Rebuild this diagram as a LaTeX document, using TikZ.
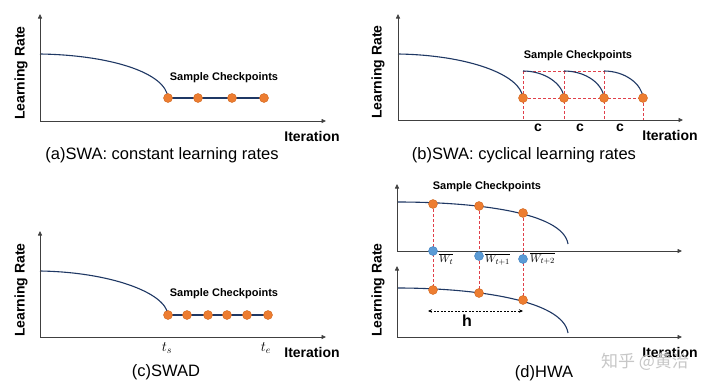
\documentclass[tikz,border=0pt]{standalone}
\usepackage{fontspec}
\setmainfont{Liberation Sans}
\newfontfamily\cjkfont{Noto Sans CJK SC}
\usetikzlibrary{arrows.meta,backgrounds}
\definecolor{lrnavy}{HTML}{1F3864}
\definecolor{ckorange}{HTML}{ED7D31}
\definecolor{ckedge}{HTML}{D0661E}
\definecolor{avgblue}{HTML}{5B9BD5}
\definecolor{avgedge}{HTML}{3F7FBF}
\definecolor{dashred}{HTML}{E0404A}
\definecolor{axisgray}{HTML}{404040}
\tikzset{
  axisline/.style={draw=axisgray, line width=0.8pt, -{Triangle[length=4.5pt,width=4pt]}},
  lrcurve/.style={draw=lrnavy, line width=1.1pt},
  ckdot/.style={circle, fill=ckorange, draw=ckedge, line width=0.4pt, inner sep=0pt, minimum size=9pt},
  avgdot/.style={circle, fill=avgblue, draw=avgedge, line width=0.4pt, inner sep=0pt, minimum size=9pt},
  reddash/.style={draw=dashred, line width=0.8pt, dash pattern=on 3pt off 2pt},
  hdash/.style={draw=black, line width=0.6pt, dash pattern=on 2pt off 1.5pt, {Stealth[length=4pt,width=3.5pt]}-{Stealth[length=4pt,width=3.5pt]}},
  ylabel/.style={font=\fontsize{14}{14}\selectfont\bfseries, rotate=90},
  xlabel/.style={font=\fontsize{14}{14}\selectfont\bfseries},
  cklabel/.style={font=\fontsize{11}{11}\selectfont\bfseries},
  clabel/.style={font=\fontsize{14}{14}\selectfont\bfseries},
  caption/.style={font=\fontsize{16.5}{16.5}\selectfont},
  mlabel/.style={font=\fontsize{14}{14}\selectfont},
  wlabel/.style={font=\fontsize{11}{11}\selectfont, anchor=north west, inner sep=0pt},
  watermark/.style={font=\fontsize{17}{17}\selectfont\cjkfont, text=black!22},
}
\begin{document}
\begin{tikzpicture}[x=1pt,y=-1pt]
\begin{pgfonlayer}{background}
\fill[white] (0,0) rectangle (720,391);
\end{pgfonlayer}
\useasboundingbox (0,0) rectangle (720,391);

% ---------------- panel (a)
\coordinate (aO) at (40,121);
\coordinate (aY) at (40,14);
\coordinate (aX) at (326,121);
\coordinate (aS) at (40,54);
\node[ckdot] (a1) at (168,98) {};
\node[ckdot] (a2) at (198,98) {};
\node[ckdot] (a3) at (232,98) {};
\node[ckdot] (a4) at (264,98) {};
\begin{pgfonlayer}{background}
\draw[lrcurve] (aS) .. controls (108,55) and (166,72) .. (a1.center);
\draw[lrcurve] (a1.center) -- (a4.center);
\end{pgfonlayer}
\draw[axisline] (aO) -- (aY);
\draw[axisline] (aO) -- (aX);
\node[cklabel] (aCk) at (224,78) {Sample Checkpoints};
\node[xlabel] (aIt) at (312,136) {Iteration};
\node[ylabel] (aLr) at (21,73) {Learning Rate};
\node[caption] (aCap) at (162,155) {(a)SWA: constant learning rates};

% ---------------- panel (b)
\coordinate (bO) at (398,120);
\coordinate (bY) at (398,14);
\coordinate (bX) at (683,120);
\coordinate (bS) at (398,54);
\coordinate (bT1) at (523,71);
\coordinate (bT2) at (564,71);
\coordinate (bT3) at (604,71);
\coordinate (bB1) at (523,120);
\coordinate (bB2) at (564,120);
\coordinate (bB3) at (604,120);
\coordinate (bB4) at (643,120);
\node[ckdot] (b1) at (523,98) {};
\node[ckdot] (b2) at (564,98) {};
\node[ckdot] (b3) at (604,98) {};
\node[ckdot] (b4) at (643,98) {};
\begin{pgfonlayer}{background}
\draw[reddash] (bT1) -- (bT3);
\draw[reddash] (b1.center) -- (b4.center);
\draw[reddash] (bT1) -- (bB1);
\draw[reddash] (bT2) -- (bB2);
\draw[reddash] (bT3) -- (bB3);
\draw[reddash] (b4.center) -- (bB4);
\draw[lrcurve] (bS) .. controls (466,55) and (521,74) .. (b1.center);
\draw[lrcurve] (bT1) .. controls (545,71) and (563,84) .. (b2.center);
\draw[lrcurve] (bT2) .. controls (586,71) and (603,84) .. (b3.center);
\draw[lrcurve] (bT3) .. controls (625,71) and (642,84) .. (b4.center);
\end{pgfonlayer}
\draw[axisline] (bO) -- (bY);
\draw[axisline] (bO) -- (bX);
\node[clabel] (bc1) at (538,128) {c};
\node[clabel] (bc2) at (580,128) {c};
\node[clabel] (bc3) at (620,128) {c};
\node[cklabel] (bCk) at (578,56) {Sample Checkpoints};
\node[xlabel] (bIt) at (670,135) {Iteration};
\node[ylabel] (bLr) at (378,72) {Learning Rate};
\node[caption] (bCap) at (524,155) {(b)SWA: cyclical learning rates};

% ---------------- panel (c)
\coordinate (cO) at (40,337);
\coordinate (cY) at (40,231);
\coordinate (cX) at (326,337);
\coordinate (cS) at (40,271);
\node[ckdot] (c1) at (168,315) {};
\node[ckdot] (c2) at (187,315) {};
\node[ckdot] (c3) at (208,315) {};
\node[ckdot] (c4) at (227,315) {};
\node[ckdot] (c5) at (247,315) {};
\node[ckdot] (c6) at (268,315) {};
\begin{pgfonlayer}{background}
\draw[lrcurve] (cS) .. controls (108,272) and (166,292) .. (c1.center);
\draw[lrcurve] (c1.center) -- (c6.center);
\end{pgfonlayer}
\draw[axisline] (cO) -- (cY);
\draw[axisline] (cO) -- (cX);
\node[cklabel] (cCk) at (224,294) {Sample Checkpoints};
\node[mlabel] (cts) at (167,348) {$t_s$};
\node[mlabel] (cte) at (266,348) {$t_e$};
\node[xlabel] (cIt) at (312,352) {Iteration};
\node[ylabel] (cLr) at (21,290) {Learning Rate};
\node[caption] (cCap) at (166,372) {(c)SWAD};

% ---------------- panel (d)
\coordinate (dO) at (397,251);
\coordinate (dY) at (397,184);
\coordinate (dX) at (682,251);
\coordinate (dS) at (397,202);
\coordinate (dE) at (568,244);
\coordinate (eO) at (397,337);
\coordinate (eY) at (397,266);
\coordinate (eX) at (682,337);
\coordinate (eS) at (397,288);
\coordinate (eE) at (568,333);
\node[ckdot] (d1) at (433,204) {};
\node[ckdot] (d2) at (479,206) {};
\node[ckdot] (d3) at (523,213) {};
\node[ckdot] (e1) at (433,290) {};
\node[ckdot] (e2) at (479,293) {};
\node[ckdot] (e3) at (523,300) {};
\node[avgdot] (w1) at (433,251) {};
\node[avgdot] (w2) at (479,256) {};
\node[avgdot] (w3) at (523,259) {};
\begin{pgfonlayer}{background}
\draw[reddash] (d1.center) -- (e1.center);
\draw[reddash] (d2.center) -- (e2.center);
\draw[reddash] (d3.center) -- (e3.center);
\draw[lrcurve] (dS) .. controls (475,202) and (563,212) .. (dE);
\draw[lrcurve] (eS) .. controls (475,288) and (563,300) .. (eE);
\draw[axisline] (dO) -- (dY);
\draw[axisline] (dO) -- (dX);
\draw[axisline] (eO) -- (eY);
\draw[axisline] (eO) -- (eX);
\end{pgfonlayer}
\node[wlabel] (w1l) at (439,253) {$\overline{W_t}$};
\node[wlabel] (w2l) at (485,253) {$\overline{W_{t+1}}$};
\node[wlabel] (w3l) at (530,252.5) {$\overline{W_{t+2}}$};
\coordinate (hL) at (428,311);
\coordinate (hR) at (523,311);
\draw[hdash] (hL) -- (hR);
\node[font=\fontsize{16}{16}\selectfont\bfseries] (hlab) at (467,321) {h};
\node[cklabel] (dCk) at (487,187) {Sample Checkpoints};
\node[xlabel] (dIt) at (670,352) {Iteration};
\node[ylabel] (dLr) at (378,290) {Learning Rate};
\node[caption] (dCap) at (544,373) {(d)HWA};
\node[watermark] (wm) at (645,362) {知乎 @黄洽};
\end{tikzpicture}
\end{document}
